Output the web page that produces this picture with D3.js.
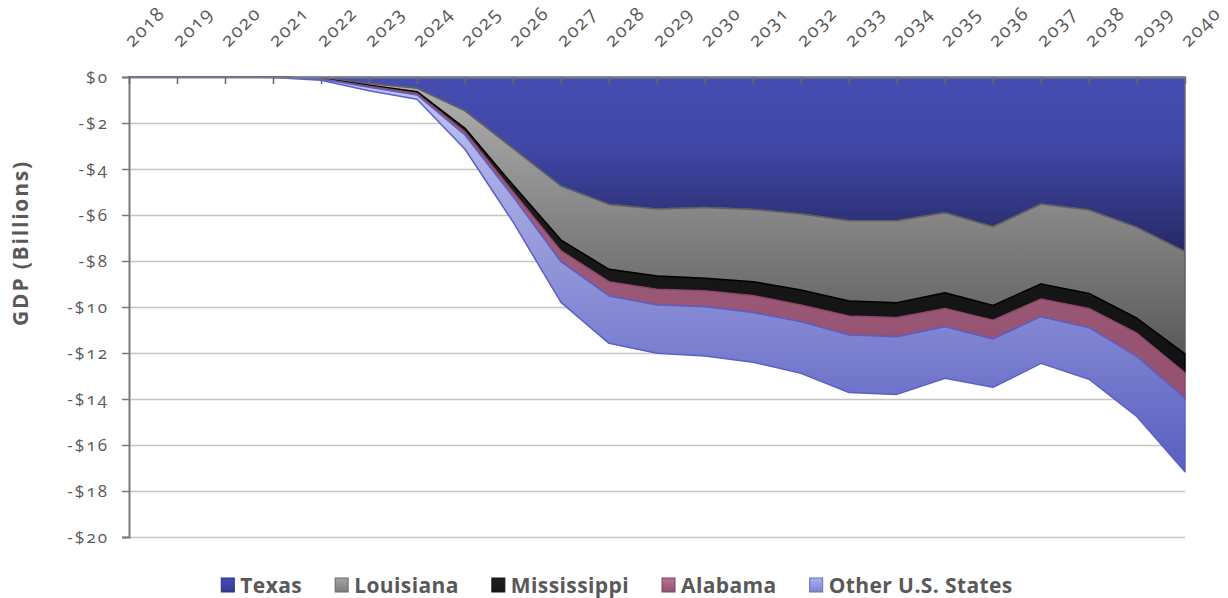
<!DOCTYPE html>
<html>
<head>
<meta charset="utf-8">
<script src="https://cdn.jsdelivr.net/npm/d3@7/dist/d3.min.js"></script>
<style>
  html, body { margin: 0; padding: 0; background: #fff; }
  svg { display: block; }
  text { font-family: "Open Sans", "DejaVu Sans", sans-serif; fill: #595959; }
</style>
</head>
<body>
<svg id="chart" width="1228" height="598"></svg>
<script>
// ---------- DATA ----------
const years = ["2018","2019","2020","2021","2022","2023","2024","2025","2026","2027","2028","2029",
               "2030","2031","2032","2033","2034","2035","2036","2037","2038","2039","2040"];
const seriesNames = ["Texas", "Louisiana", "Mississippi", "Alabama", "Other U.S. States"];
const texas       = [0,0,0,-0.01,-0.05,-0.28,-0.49,-1.47,-3.10,-4.74,-5.54,-5.74,-5.67,-5.76,-5.96,-6.25,-6.25,-5.90,-6.51,-5.52,-5.78,-6.54,-7.59];
const louisiana   = [0,0,0,0,-0.02,-0.08,-0.15,-0.76,-1.60,-2.35,-2.82,-2.91,-3.08,-3.14,-3.30,-3.49,-3.56,-3.48,-3.42,-3.48,-3.63,-3.95,-4.45];
const mississippi = [0,0,0,0,-0.01,-0.04,-0.07,-0.15,-0.29,-0.46,-0.54,-0.58,-0.54,-0.60,-0.65,-0.65,-0.65,-0.68,-0.64,-0.65,-0.65,-0.65,-0.82];
const alabama     = [0,0,0,0,-0.01,-0.05,-0.07,-0.14,-0.21,-0.48,-0.62,-0.68,-0.70,-0.74,-0.73,-0.83,-0.83,-0.80,-0.82,-0.77,-0.84,-1.02,-1.11];
const otherStates = [0,0,0,-0.01,-0.05,-0.15,-0.19,-0.62,-1.10,-1.77,-2.06,-2.10,-2.14,-2.16,-2.24,-2.50,-2.51,-2.24,-2.10,-2.03,-2.24,-2.61,-3.19];
const yTicks = [0,-2,-4,-6,-8,-10,-12,-14,-16,-18,-20];

// ---------- SETUP ----------
const svg = d3.select("#chart");
const pLeft = 129, pRight = 1185, pTop = 77, pBottom = 537;

const x = d3.scalePoint().domain(years).range([pLeft, pRight]);
const y = d3.scaleLinear().domain([-20, 0]).range([pBottom, pTop]);

const table = years.map((yr, i) => ({
  year: yr,
  "Texas": texas[i],
  "Louisiana": louisiana[i],
  "Mississippi": mississippi[i],
  "Alabama": alabama[i],
  "Other U.S. States": otherStates[i]
}));
const stacked = d3.stack().keys(seriesNames).offset(d3.stackOffsetDiverging)(table);

// gradients
const grads = {
  "Texas":             [["0%", "#464db2"], ["40%", "#4047a6"], ["100%", "#262965"]],
  "Louisiana":         [["0%", "#b2b2b2"], ["100%", "#5a5a5a"]],
  "Mississippi":       [["0%", "#222222"], ["100%", "#111111"]],
  "Alabama":           [["0%", "#a86685"], ["100%", "#93506f"]],
  "Other U.S. States": [["0%", "#c3c6ef"], ["100%", "#5a5fc1"]]
};
const strokes = {
  "Texas": "#6a6a8a",
  "Louisiana": "#5f5f5f",
  "Mississippi": "#000000",
  "Alabama": "#8a4868",
  "Other U.S. States": "#5b60c8"
};
const legendFill = {
  "Texas": "#3a40a0",
  "Louisiana": "#8a8a8a",
  "Mississippi": "#1a1a1a",
  "Alabama": "#a05c7c",
  "Other U.S. States": "#8d92dc"
};
const defs = svg.append("defs");
seriesNames.forEach((name, i) => {
  const g = defs.append("linearGradient").attr("id", "g" + i)
    .attr("x1", 0).attr("y1", 0).attr("x2", 0).attr("y2", 1);
  grads[name].forEach(s => g.append("stop").attr("offset", s[0]).attr("stop-color", s[1]));
  const lg = defs.append("linearGradient").attr("id", "lg" + i)
    .attr("x1", 0).attr("y1", 0).attr("x2", 0).attr("y2", 1);
  lg.append("stop").attr("offset", "0%").attr("stop-color", d3.color(legendFill[name]).brighter(0.5));
  lg.append("stop").attr("offset", "100%").attr("stop-color", d3.color(legendFill[name]).darker(0.3));
});

// gridlines
const grid = svg.append("g").attr("transform", `translate(${pLeft},0)`)
  .call(d3.axisLeft(y).tickValues(yTicks.filter(v => v !== 0)).tickSize(-(pRight - pLeft)).tickFormat(""));
grid.select(".domain").remove();
grid.selectAll(".tick line").attr("stroke", "#c4c4c4").attr("stroke-width", 1.6);

// areas
const area = d3.area()
  .x(d => x(d.data.year))
  .y0(d => y(d[0]))
  .y1(d => y(d[1]));

svg.append("g").selectAll("path")
  .data(stacked)
  .join("path")
  .attr("d", area)
  .attr("fill", (d, i) => `url(#g${i})`)
  .attr("stroke", d => strokes[d.key])
  .attr("stroke-width", 1.5)
  .attr("stroke-linejoin", "round");

// y axis
const yAxis = svg.append("g").attr("transform", `translate(${pLeft},0)`)
  .call(d3.axisLeft(y).tickValues(yTicks).tickSize(7).tickPadding(13)
    .tickFormat(v => v === 0 ? "$0" : "-$" + Math.abs(v)));
yAxis.select(".domain").attr("stroke", "#7a7a7a").attr("stroke-width", 2);
yAxis.selectAll(".tick line").attr("stroke", "#7a7a7a").attr("stroke-width", 1.5);
yAxis.selectAll(".tick text").attr("font-size", 17).style("fill", "#595959")
  .style("font-family", "'Open Sans', sans-serif")
  .style("letter-spacing", "2px")
  .style("font-variant-numeric", "oldstyle-nums");

// x axis (top)
const xAxis = svg.append("g").attr("transform", `translate(0,${pTop})`)
  .call(d3.axisTop(x).tickSizeInner(-7).tickSizeOuter(0).tickPadding(0));
xAxis.select(".domain").attr("stroke", "#7e7e7e").attr("stroke-width", 2);
xAxis.selectAll(".tick line").attr("stroke", "#6a6a6a").attr("stroke-width", 1.5);
xAxis.selectAll(".tick text")
  .attr("y", 0).attr("dy", 0)
  .attr("text-anchor", "start")
  .attr("transform", "translate(3,-29) rotate(-45)")
  .attr("font-size", 19)
  .style("fill", "#595959")
  .style("font-family", "'Open Sans', sans-serif")
  .style("letter-spacing", "1.5px")
  .style("font-variant-numeric", "oldstyle-nums");

// y title
svg.append("text")
  .attr("transform", "translate(28,243) rotate(-90)")
  .attr("text-anchor", "middle")
  .attr("font-size", 21)
  .attr("font-weight", "bold")
  .style("letter-spacing", "1.8px")
  .text("GDP (Billions)");

// legend
const legend = svg.append("g");
let cx = 0;
const items = legend.selectAll("g").data(seriesNames).join("g");
items.append("rect")
  .attr("width", 13).attr("height", 14)
  .attr("y", -15)
  .attr("fill", (d, i) => `url(#lg${i})`)
  .attr("stroke", d => d3.color(legendFill[d]).darker(0.8))
  .attr("stroke-width", 1);
items.append("text")
  .attr("x", 19).attr("y", 0)
  .attr("font-size", 21)
  .attr("font-weight", "bold")
  .style("letter-spacing", "0.4px")
  .text(d => d);
items.each(function () {
  const g = d3.select(this);
  const w = g.select("text").node().getComputedTextLength();
  g.attr("transform", `translate(${cx},0)`);
  cx += 19 + w + 33;
});
const totalW = cx - 33;
legend.attr("transform", `translate(${617 - totalW / 2},593)`);
</script>
</body>
</html>
